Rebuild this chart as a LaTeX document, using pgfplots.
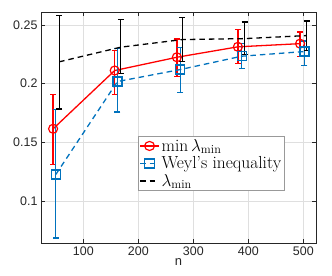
\documentclass[border=0pt]{standalone}
\usepackage{pgfplots}
\pgfplotsset{compat=1.18}
\usepackage{fontspec}
\setsansfont{Liberation Sans}
\definecolor{mblue}{rgb}{0,0.447,0.741}
\definecolor{axgray}{rgb}{0.15,0.15,0.15}
\begin{document}
\begin{tikzpicture}
\begin{axis}[
  scale only axis, width=275bp, height=231bp,
  xmin=23, xmax=523, ymin=0.064, ymax=0.261,
  xtick={100,200,300,400,500}, xticklabels={100,200,300,400,500},
  ytick={0.1,0.15,0.2,0.25}, yticklabels={0.1,0.15,0.2,0.25},
  tick label style={font=\sffamily\fontsize{12.5}{14}\selectfont, text=axgray},
  xlabel={n}, xlabel style={font=\sffamily\fontsize{13}{15}\selectfont, text=axgray, yshift=4pt},
  axis line style={axgray}, tick style={axgray},
  tick align=inside, major tick length=4bp,
  xtick pos=both, ytick pos=both,
  grid=major, grid style={gray!25, line width=0.4pt},
  legend style={at={(0.354,0.463)}, anchor=north west, draw=gray!80, fill=white,
    font=\fontsize{17.5}{18}\selectfont, inner sep=1pt, row sep=0pt, cells={anchor=west}},
  legend cell align=left,
  legend image post style={xscale=1.1},
]
\coordinate (ll) at (rel axis cs:0,0);
\coordinate (ur) at (rel axis cs:1,1);
\addplot+[red, line width=1.3pt, mark=o, mark size=4.5bp, mark options={solid, line width=1.2pt},
  error bars/.cd, y dir=both, y explicit, error bar style={red, line width=1.3pt},
  error mark options={red, rotate=90, mark size=3bp, line width=1.3pt}]
coordinates {
 (45,0.1614) += (0,0.0292) -= (0,0.0304)
 (157,0.2111) += (0,0.0173) -= (0,0.0202)
 (270,0.2224) += (0,0.0156) -= (0,0.0167)
 (381,0.2313) += (0,0.0147) -= (0,0.0145)
 (494,0.2340) += (0,0.0100) -= (0,0.0107)
};
\addlegendentry{$\min\lambda_{\min}$}
\addplot+[mblue, dash pattern=on 5.5bp off 4bp, line width=1.3pt, mark=square, mark size=4.5bp, mark options={solid, line width=1.2pt},
  error bars/.cd, y dir=both, y explicit, error bar style={mblue, solid, line width=1.3pt},
  error mark options={mblue, rotate=90, mark size=3bp, line width=1.3pt}]
coordinates {
 (50,0.1225) += (0,0.0555) -= (0,0.0543)
 (162,0.2017) += (0,0.0279) -= (0,0.0261)
 (276,0.2119) += (0,0.0191) -= (0,0.0196)
 (388,0.2233) += (0,0.0110) -= (0,0.0103)
 (502,0.2273) += (0,0.0090) -= (0,0.0120)
};
\addlegendentry{Weyl's inequality}
\addplot+[black, dash pattern=on 5.5bp off 4bp, line width=1.3pt, mark=none,
  error bars/.cd, y dir=both, y explicit, error bar style={black, solid, line width=1.3pt},
  error mark options={black, rotate=90, mark size=3bp, line width=1.3pt}]
coordinates {
 (56,0.2185) += (0,0.0395) -= (0,0.0401)
 (168,0.2310) += (0,0.0235) -= (0,0.0225)
 (280,0.2375) += (0,0.0190) -= (0,0.0188)
 (393,0.2383) += (0,0.0142) -= (0,0.0136)
 (506,0.2409) += (0,0.0125) -= (0,0.0125)
};
\addlegendentry{$\lambda_{\min}$}
\end{axis}
\pgfresetboundingbox
\path ([shift={(-41bp,-32bp)}]ll) rectangle ([shift={(16bp,12bp)}]ur);
\end{tikzpicture}
\end{document}
